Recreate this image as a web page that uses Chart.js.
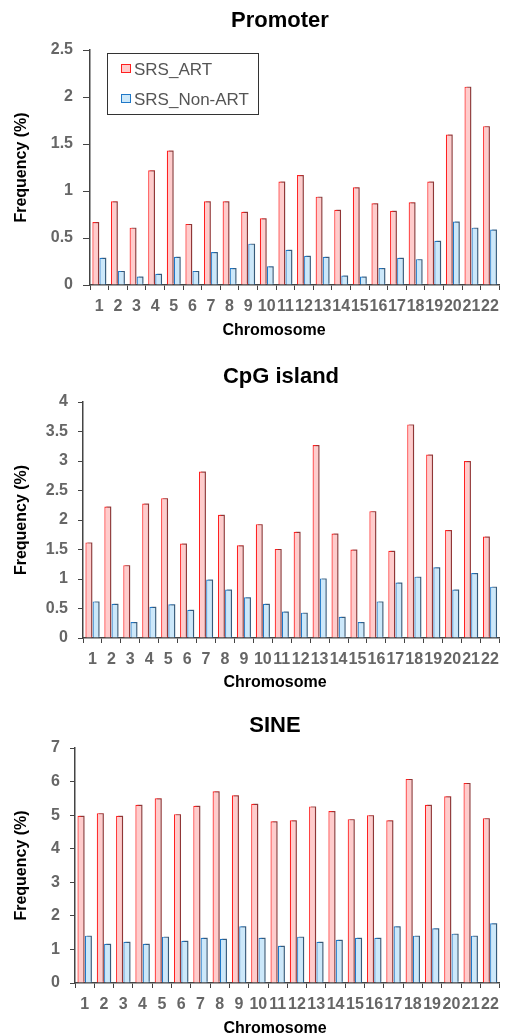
<!DOCTYPE html>
<html lang="en">
<head>
<meta charset="UTF-8" />
<title>SRS frequency by chromosome</title>
<script src="https://cdn.jsdelivr.net/npm/chart.js@4.4.1/dist/chart.umd.min.js"></script>
<style>
  html, body { margin: 0; padding: 0; background: #fff; }
  .panel { position: absolute; left: 0; width: 506px; }
</style>
</head>
<body>
<div class="panel" style="top:0"><canvas id="promoter" width="506" height="340"></canvas></div>
<div class="panel" style="top:340px"><canvas id="cpg" width="506" height="350"></canvas></div>
<div class="panel" style="top:690px"><canvas id="sine" width="506" height="345"></canvas></div>
<script>
// data
const chromosomes = ['1','2','3','4','5','6','7','8','9','10','11','12','13','14','15','16','17','18','19','20','21','22'];
const seriesNames = ['SRS_ART', 'SRS_Non-ART'];

const promoterArt    = [0.67,0.89,0.61,1.22,1.43,0.65,0.89,0.89,0.78,0.71,1.10,1.17,0.94,0.80,1.04,0.87,0.79,0.88,1.10,1.60,2.11,1.69];
const promoterNonArt = [0.29,0.15,0.09,0.12,0.30,0.15,0.35,0.18,0.44,0.20,0.375,0.31,0.30,0.10,0.09,0.18,0.29,0.275,0.47,0.675,0.61,0.59];

const cpgArt    = [1.62,2.23,1.235,2.28,2.37,1.60,2.82,2.09,1.57,1.93,1.51,1.80,3.27,1.77,1.50,2.15,1.48,3.62,3.11,1.83,3.00,1.72];
const cpgNonArt = [0.62,0.58,0.27,0.53,0.57,0.48,0.99,0.82,0.69,0.58,0.45,0.43,1.01,0.36,0.27,0.62,0.94,1.04,1.20,0.82,1.10,0.87];

const sineArt    = [4.98,5.06,4.98,5.31,5.50,5.03,5.28,5.71,5.59,5.34,4.82,4.85,5.26,5.12,4.88,5.00,4.85,6.08,5.31,5.56,5.96,4.91];
const sineNonArt = [1.41,1.17,1.23,1.17,1.38,1.26,1.35,1.32,1.69,1.35,1.11,1.38,1.23,1.29,1.35,1.35,1.69,1.41,1.63,1.47,1.41,1.78];

const FONT = "'Liberation Sans', Arial, sans-serif";
const AXIS = '#444';

// darker shade on the right of each bar, like the original
const barShadow = {
  id: 'barShadow',
  beforeDatasetDraw(chart) {
    const ctx = chart.ctx;
    ctx.save();
    ctx.shadowColor = 'rgba(70,70,70,0.6)';
    ctx.shadowOffsetX = 2;
    ctx.shadowOffsetY = -1;
    ctx.shadowBlur = 0;
  },
  afterDatasetDraw(chart) {
    chart.ctx.restore();
  }
};

// titles, x-axis caption and the boxed legend are drawn by hand
const panelText = {
  id: 'panelText',
  afterDraw(chart, args, o) {
    const ctx = chart.ctx;
    ctx.save();
    ctx.fillStyle = '#000';
    ctx.textAlign = 'center';
    ctx.textBaseline = 'alphabetic';
    ctx.font = 'bold 22px ' + FONT;
    ctx.fillText(o.title, o.titleX, o.titleY);
    ctx.font = 'bold 16px ' + FONT;
    ctx.fillText('Chromosome', o.xTitleX, o.xTitleY);

    if (o.legend) {
      ctx.fillStyle = '#fff';
      ctx.fillRect(107, 53, 151, 61);
      ctx.strokeStyle = '#333';
      ctx.lineWidth = 1;
      ctx.strokeRect(107.5, 53.5, 151, 61);
      const rows = [
        { y: 69, fill: '#ffcccc', stroke: '#ff2020' },
        { y: 99, fill: '#cce8fa', stroke: '#1f78c8' }
      ];
      ctx.font = '17px ' + FONT;
      ctx.textAlign = 'left';
      ctx.textBaseline = 'middle';
      rows.forEach((r, i) => {
        ctx.fillStyle = r.fill;
        ctx.fillRect(121.5, r.y - 4.5, 9, 8);
        ctx.strokeStyle = r.stroke;
        ctx.strokeRect(121.5, r.y - 4.5, 9, 8);
        ctx.fillStyle = '#555';
        ctx.fillText(seriesNames[i], 134, r.y + 1);
      });
    }
    ctx.restore();
  }
};

function makeChart(id, art, nonArt, p) {
  const canvas = document.getElementById(id);
  const h = canvas.height;
  return new Chart(canvas, {
    type: 'bar',
    data: {
      labels: chromosomes,
      datasets: [
        { label: seriesNames[0], data: art, backgroundColor: '#ffcccc', borderColor: '#ff2020', borderWidth: 1.2 },
        { label: seriesNames[1], data: nonArt, backgroundColor: '#cce8fa', borderColor: '#1f78c8', borderWidth: 1.2 }
      ]
    },
    options: {
      responsive: false,
      animation: false,
      datasets: { bar: { barPercentage: 0.96, categoryPercentage: 0.76 } },
      layout: { padding: { top: p.top, right: 506 - p.right, left: 0, bottom: 0 } },
      plugins: {
        legend: { display: false },
        tooltip: { enabled: false },
        panelText: p
      },
      scales: {
        x: {
          offset: true,
          grid: { display: true, drawOnChartArea: false, offset: true, tickLength: 5, color: AXIS },
          border: { display: true, color: AXIS, width: 1.5 },
          ticks: {
            autoSkip: false, maxRotation: 0, minRotation: 0, padding: 7,
            color: '#666', font: { family: FONT, size: 16, weight: 'bold' }
          },
          afterFit: (s) => { s.height = h - p.bottom; }
        },
        y: {
          min: 0,
          max: p.yMax,
          grid: { drawOnChartArea: false, tickLength: p.tickLength, color: AXIS },
          border: { display: true, color: AXIS, width: 1.5 },
          ticks: {
            stepSize: p.step, padding: 10,
            color: '#666', font: { family: FONT, size: 16, weight: 'bold' },
            callback: (v) => String(Math.round(v * 10) / 10)
          },
          title: {
            display: true, text: 'Frequency (%)', color: '#000',
            font: { family: FONT, size: 16, weight: 'bold' },
            padding: { top: 12, bottom: 0 }
          },
          afterFit: (s) => { s.width = p.left; }
        }
      }
    },
    plugins: [barShadow, panelText]
  });
}

makeChart('promoter', promoterArt, promoterNonArt, {
  title: 'Promoter', titleX: 280, titleY: 27, xTitleX: 274, xTitleY: 335,
  top: 50, bottom: 285, left: 90, right: 502, yMax: 2.5, step: 0.5, tickLength: 7, legend: true
});
makeChart('cpg', cpgArt, cpgNonArt, {
  title: 'CpG island', titleX: 281, titleY: 43, xTitleX: 275, xTitleY: 347,
  top: 62, bottom: 298, left: 83, right: 501, yMax: 4, step: 0.5, tickLength: 5, legend: false
});
makeChart('sine', sineArt, sineNonArt, {
  title: 'SINE', titleX: 275, titleY: 42, xTitleX: 275, xTitleY: 343,
  top: 58, bottom: 293, left: 75, right: 501, yMax: 7, step: 1, tickLength: 5, legend: false
});
</script>
</body>
</html>
